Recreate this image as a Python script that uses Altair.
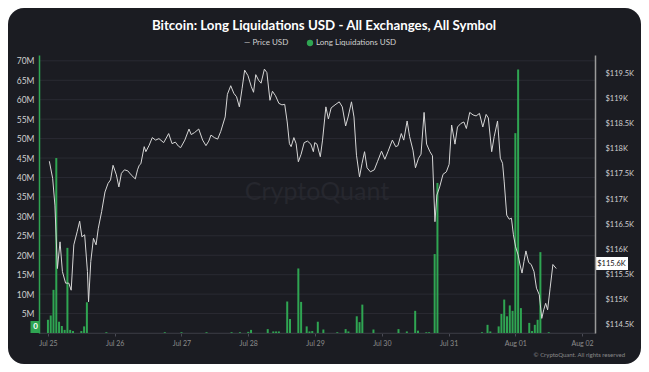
import altair as alt
import pandas as pd

# ---------------- data ----------------
price_hours = [0.5, 1.7, 2.5, 3.4, 4.35, 5.2, 6.35, 7.5, 8.35, 9.3, 10.5, 11.4, 12.2, 13.2, 14.2, 14.6,
               15.4, 16.35, 17.3, 18.1, 19.3, 20.5, 21.6, 22.5, 23.4, 24.6, 25.5, 26.4, 27.5, 28.7, 29.9,
               31.4, 32.2, 32.8, 33.4, 34.6, 35.2, 36.4, 37.5, 38.7, 39.9, 41.6, 43.4, 44.6, 45.8, 46.9,
               47.7, 49.2, 50.7, 51.5, 52.7, 54.2, 55.6, 56.8, 57.8, 58.6, 59.8, 61.0, 62.1, 63.7, 64.5,
               65.7, 66.8, 67.8, 68.8, 69.8, 70.7, 71.9, 73.1, 73.9, 74.7, 75.7, 76.6, 77.8, 78.7, 79.8,
               80.7, 81.8, 83.0, 84.1, 85.1, 86.0, 86.8, 87.4, 88.4, 89.2, 90.0, 91.0, 92.1, 93.3, 94.5,
               95.4, 95.9, 96.7, 97.9, 98.7, 99.9, 100.8, 101.8, 103.2, 104.7, 105.8, 107.0, 107.9, 109.1,
               110.0, 110.9, 112.0, 112.9, 113.8, 114.7, 115.9, 117.3, 118.5, 119.9, 121.1, 122.2, 123.8,
               125.0, 125.8, 127.0, 127.9, 129.1, 130.0, 131.2, 132.1, 133.2, 134.1, 135.2, 136.1, 137.3,
               138.2, 139.1, 139.8, 140.8, 142.0, 143.2, 144.2, 145.1, 146.3, 147.2, 148.4, 149.5, 150.4,
               151.6, 152.8, 153.9, 155.1, 156.3, 157.5, 158.3, 159.5, 160.4, 161.6, 162.6, 163.4, 164.0,
               164.9, 165.8, 166.6, 167.3, 168.1, 169.0, 169.7, 170.4, 171.1, 171.8, 172.8, 173.7, 174.7,
               175.6, 176.6, 177.5, 178.2, 178.9, 179.6, 180.5, 181.5, 182.7]
price_k = [117.75, 117.41, 116.88, 115.62, 116.15, 115.56, 115.33, 115.33, 115.19, 116.09, 116.35, 116.56,
           116.25, 116.29, 115.56, 114.96, 115.76, 116.22, 116.09, 116.42, 116.75, 117.14, 117.31, 117.38,
           117.67, 117.48, 117.24, 117.51, 117.58, 117.56, 117.48, 117.40, 117.58, 117.67, 117.70, 118.04,
           117.94, 118.07, 118.22, 118.17, 118.20, 118.12, 118.30, 118.10, 118.13, 118.05, 118.02, 118.17,
           118.39, 118.28, 118.32, 118.39, 118.17, 118.06, 118.15, 118.27, 118.22, 118.19, 118.34, 118.63,
           119.08, 119.25, 119.10, 119.03, 118.83, 119.20, 119.56, 119.45, 119.23, 119.12, 119.47, 119.36,
           119.30, 119.58, 119.51, 118.96, 119.14, 119.05, 118.90, 118.87, 118.88, 118.53, 118.10, 118.04,
           118.22, 118.10, 117.74, 117.89, 118.12, 118.15, 118.09, 117.94, 118.12, 118.09, 117.84, 118.17,
           118.83, 118.59, 118.81, 118.87, 118.93, 118.83, 118.45, 118.63, 118.93, 118.63, 117.87, 117.44,
           117.71, 117.94, 117.62, 117.54, 117.58, 117.75, 117.95, 117.79, 117.94, 118.17, 118.04, 118.06,
           118.30, 118.17, 118.55, 118.24, 117.97, 117.62, 117.81, 117.89, 118.72, 118.09, 117.94, 117.86,
           116.55, 117.08, 117.24, 117.49, 117.54, 117.69, 118.47, 118.09, 118.43, 118.50, 118.53, 118.40,
           118.72, 118.67, 118.65, 118.70, 118.43, 118.68, 118.61, 117.94, 118.24, 118.55, 117.81, 117.71,
           117.34, 116.68, 116.60, 116.62, 116.29, 116.05, 115.89, 115.69, 115.53, 115.76, 115.97, 115.74,
           115.70, 115.56, 115.23, 115.10, 114.63, 114.80, 114.93, 114.80, 115.23, 115.70, 115.62]

liq_hours = [0, 1, 2, 3, 4, 5, 6, 7, 8, 9, 12, 13, 14, 21, 42, 48, 57, 66, 69, 72, 73, 79, 81, 82, 83,
             86, 87, 90, 91, 93, 94, 95, 97, 99, 104, 107, 108, 111, 112, 113, 117, 126, 129, 132, 133,
             136, 137, 139, 140, 156, 158, 159, 162, 163, 164, 165, 166, 167, 168, 169, 170, 173, 174,
             175, 176, 177, 180]
liq_m = [3.4, 4.5, 11.1, 45.0, 2.9, 1.8, 0.8, 21.9, 0.8, 0.5, 0.5, 1.7, 7.9, 0.2, 0.2, 0.2, 0.2, 0.2,
         0.2, 0.3, 0.8, 1.0, 0.4, 0.4, 0.4, 8.1, 3.6, 16.6, 8.0, 1.7, 0.4, 0.5, 2.9, 0.9, 0.2, 1.0, 0.4,
         4.3, 2.8, 7.3, 0.9, 1.0, 0.4, 5.7, 0.6, 0.2, 0.2, 20.3, 38.6, 0.2, 2.1, 0.4, 1.7, 4.9, 8.6, 4.3,
         7.1, 5.7, 51.4, 67.8, 6.4, 2.6, 0.5, 2.1, 3.4, 20.8, 0.2]

day_ticks = [(7, 25), (7, 26), (7, 27), (7, 28), (7, 29), (7, 30), (7, 31), (8, 1), (8, 2)]
left_ticks = [0, 5, 10, 15, 20, 25, 30, 35, 40, 45, 50, 55, 60, 65, 70]
right_ticks = [114.5, 115, 115.5, 116, 116.5, 117, 117.5, 118, 118.5, 119, 119.5]
last_liq = [0]

title_text = "Bitcoin: Long Liquidations USD - All Exchanges, All Symbol"

# ---------------- frames ----------------
base = pd.Timestamp("2025-07-25 00:00")
price_df = pd.DataFrame({"t": base + pd.to_timedelta(price_hours, unit="h"), "price": price_k})
liq_df = pd.DataFrame({"t": base + pd.to_timedelta(liq_hours, unit="h"), "liq": liq_m})
grid_df = pd.DataFrame({"v": left_ticks})
last_price_df = pd.DataFrame({"price": [price_k[-1]], "label": ["$%.1fK" % price_k[-1]]})
last_liq_df = pd.DataFrame({"v": last_liq, "label": [str(v) for v in last_liq]})
one = pd.DataFrame({"a": [0]})

W, H = 556, 278
BG = "#1b1c22"
GREEN = "#2fa552"
FONT = "Lato"

x_scale = alt.Scale(domain=[alt.DateTime(year=2025, month=7, date=24, hours=22, minutes=35),
                            alt.DateTime(year=2025, month=8, date=2, hours=2, minutes=50)])
x_axis = alt.Axis(values=[alt.DateTime(year=2025, month=m, date=d) for m, d in day_ticks],
                  format="%b %d", labelColor="#8c8c8c", labelFontSize=7, labelFont=FONT,
                  domainColor="#34353d", tickColor="#4a4b55", tickSize=3, labelPadding=3,
                  labelOverlap=False, grid=False, title=None, zindex=1)
yl_scale = alt.Scale(domain=[0, 71.5], nice=False)
yr_scale = alt.Scale(domain=[114.34, 119.86], nice=False)
yl_axis = alt.Axis(orient="left", values=left_ticks, grid=False, ticks=False,
                   labelExpr="datum.value == 0 ? '' : datum.value + 'M'",
                   labelColor="#cfcfcf", labelFontSize=8.5, labelFont=FONT,
                   labelPadding=5, labelOverlap=False, domainColor=GREEN, domainWidth=1.5,
                   title=None, zindex=1)
yr_axis = alt.Axis(orient="right", values=right_ticks, grid=False, ticks=False,
                   labelExpr="'$' + datum.value + 'K'", labelColor="#d0d0d0",
                   labelFontSize=7.5, labelFont=FONT, labelPadding=10, labelOverlap=False,
                   domainColor="#9a9a9a", domainWidth=1.5, title=None, zindex=1)

# card background
card = alt.Chart(one).mark_rect(cornerRadius=16, color=BG).encode(
    x=alt.value(-31), x2=alt.value(602), y=alt.value(-47), y2=alt.value(309))

watermark = alt.Chart(one).mark_text(text="CryptoQuant", font=FONT, fontSize=25, color="#26272e",
                                     align="center", baseline="middle").encode(
    x=alt.value(278), y=alt.value(137))

# left layer: gridlines + bars + last value tag
grid = alt.Chart(grid_df).mark_rule(color="#2a2b33", strokeWidth=1).encode(
    y=alt.Y("v:Q", scale=yl_scale, axis=yl_axis))
bars = alt.Chart(liq_df).mark_bar(size=2, color=GREEN).encode(
    x=alt.X("t:T", scale=x_scale, axis=x_axis),
    y=alt.Y("liq:Q", scale=yl_scale, axis=yl_axis))
liq_tag = alt.Chart(last_liq_df).mark_rect(color=GREEN, yOffset=-12, y2Offset=0).encode(
    x=alt.value(-8.5), x2=alt.value(1), y=alt.Y("v:Q", scale=yl_scale, axis=yl_axis), y2="v:Q")
liq_tag_text = alt.Chart(last_liq_df).mark_text(color="white", fontSize=8, fontWeight="bold",
                                                font=FONT, dy=-6, align="center").encode(
    x=alt.value(-3.5), y=alt.Y("v:Q", scale=yl_scale, axis=yl_axis), text="label:N")
left = alt.layer(grid, bars, liq_tag, liq_tag_text)

# right layer: price line + last value tag
line = alt.Chart(price_df).mark_line(color="#d6d6d6", strokeWidth=1).encode(
    x=alt.X("t:T", scale=x_scale, axis=x_axis),
    y=alt.Y("price:Q", scale=yr_scale, axis=yr_axis))
price_tag = alt.Chart(last_price_df).mark_rect(color="white", yOffset=-11.5, y2Offset=1.5).encode(
    x=alt.value(556), x2=alt.value(589), y=alt.Y("price:Q", scale=yr_scale, axis=yr_axis), y2="price:Q")
price_tag_text = alt.Chart(last_price_df).mark_text(color="#111111", fontSize=7.5, font=FONT,
                                                    dy=-5, align="center").encode(
    x=alt.value(572.5), y=alt.Y("price:Q", scale=yr_scale, axis=yr_axis), text="label:N")
right = alt.layer(line, price_tag, price_tag_text)

# texts
title = alt.Chart(one).mark_text(text=title_text, font=FONT, fontSize=13.3, fontWeight="bold",
                                 color="white", align="center", baseline="middle").encode(
    x=alt.value(285), y=alt.value(-29))
leg1 = alt.Chart(one).mark_text(text="— Price USD", font=FONT, fontSize=8, color="#cfcfcf",
                                align="left", baseline="middle").encode(
    x=alt.value(205), y=alt.value(-12))
leg_dot = alt.Chart(one).mark_point(shape="circle", filled=True, size=40, color=GREEN, opacity=1).encode(
    x=alt.value(271), y=alt.value(-12))
leg2 = alt.Chart(one).mark_text(text="Long Liquidations USD", font=FONT, fontSize=8, color="#cfcfcf",
                                align="left", baseline="middle").encode(
    x=alt.value(277), y=alt.value(-12))
footer = alt.Chart(one).mark_text(text="© CryptoQuant. All rights reserved", font=FONT, fontSize=6,
                                  color="#8a8a8a", align="right", baseline="middle").encode(
    x=alt.value(586), y=alt.value(300))

chart = alt.layer(card, watermark, left, right, title, leg1, leg_dot, leg2, footer).resolve_scale(
    y="independent"
).properties(
    width=W, height=H, autosize="none",
    padding={"left": 31, "top": 47, "right": 46, "bottom": 31},
).configure(background="white").configure_view(stroke=None)

chart.save("out.html", embed_options={"renderer": "svg", "actions": False})
